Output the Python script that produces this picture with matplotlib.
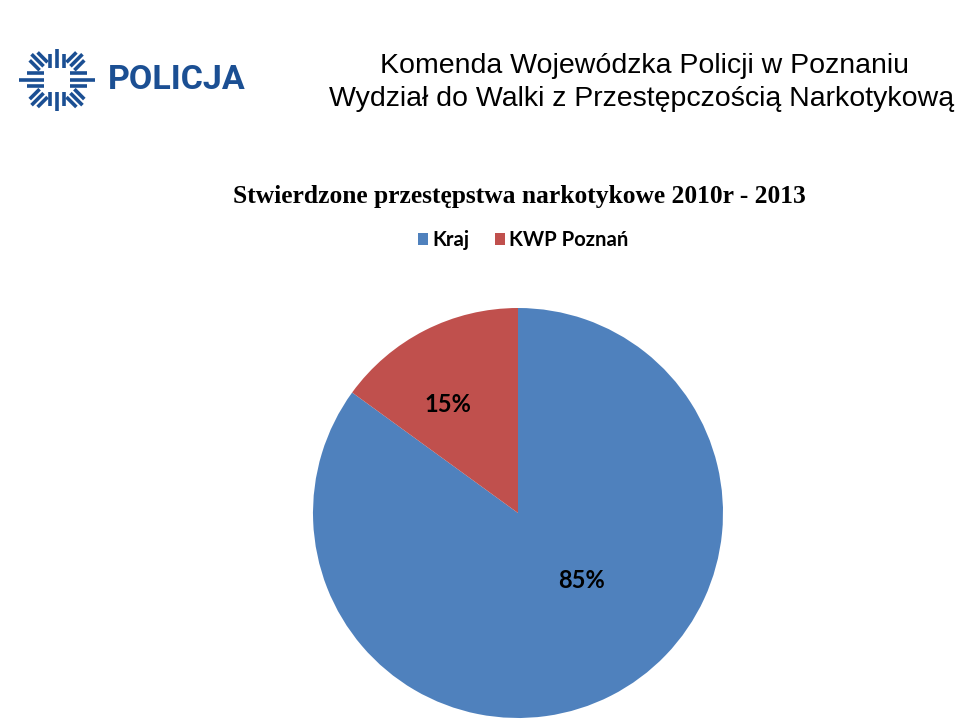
import numpy as np
import matplotlib
matplotlib.use("Agg")
import matplotlib.pyplot as plt
from matplotlib.patches import Patch

# data
categories = ["Kraj", "KWP Poznań"]
shares = [85, 15]
colors = ["#4F81BD", "#C0504D"]
# label positions inside the pie (fraction of radius, Excel-like placement)
label_xy = [(0.31, -0.33), (-0.34, 0.53)]

header_lines = ["Komenda Wojewódzka Policji w Poznaniu",
                "Wydział do Walki z Przestępczością Narkotykową"]
chart_title = "Stwierdzone przestępstwa narkotykowe 2010r - 2013"

W, H = 959, 723
fig = plt.figure(figsize=(W / 100, H / 100), dpi=100)
fig.patch.set_facecolor("white")


def px(x0, y0, w, h):
    """pixel box (top-left origin) -> figure fraction rect"""
    return [x0 / W, 1 - (y0 + h) / H, w / W, h / H]


# ---------------------------------------------------------------------------
# Police logo (star + wordmark)
# ---------------------------------------------------------------------------
C_LOGO = "#1b4f93"
ax_logo = fig.add_axes(px(0, 0, 265, 160))
ax_logo.set_xlim(0, 265)
ax_logo.set_ylim(160, 0)
ax_logo.axis("off")

cx, cy = 57, 79.7
for k in range(8):
    ang = np.deg2rad(45 * k)
    d = np.array([np.cos(ang), np.sin(ang)])
    n = np.array([-d[1], d[0]])
    if k % 2 == 1:          # diagonal arms
        r0, r_side, r_mid, sp = 19, 33, 36, 5.6
    elif k in (0, 4):       # horizontal arms
        r0, r_side, r_mid, sp = 13, 30, 38, 6.3
    else:                   # vertical arms
        r0, r_side, r_mid, sp = 12, 26, 31, 6.6
    for off in (-1, 0, 1):
        r1 = r_mid if off == 0 else r_side
        p0 = np.array([cx, cy]) + d * r0 + n * off * sp
        p1 = np.array([cx, cy]) + d * r1 + n * off * sp
        ax_logo.plot([p0[0], p1[0]], [p0[1], p1[1]], color=C_LOGO,
                     lw=2.6, solid_capstyle="butt")

ax_logo.text(108, 80, "POLICJA", fontsize=24.5, fontweight="bold",
             family="Roboto", color=C_LOGO, ha="left", va="center")

# ---------------------------------------------------------------------------
# Header text
# ---------------------------------------------------------------------------
fig.text(644 / W, 1 - 66 / H, header_lines[0], ha="center", va="center",
         fontsize=20.5, family="Liberation Sans", color="black")
fig.text(642 / W, 1 - 99 / H, header_lines[1], ha="center", va="center",
         fontsize=20.5, family="Liberation Sans", color="black")

fig.text(519 / W, 1 - 196 / H, chart_title, ha="center", va="center",
         fontsize=18.4, fontweight="bold", family="Liberation Serif")

# ---------------------------------------------------------------------------
# Pie
# ---------------------------------------------------------------------------
R = 205
ax = fig.add_axes(px(518 - R, 513 - R, 2 * R, 2 * R))
wedges, _, autotexts = ax.pie(shares, colors=colors, startangle=90,
                              counterclock=False, autopct="%d%%",
                              wedgeprops=dict(linewidth=0),
                              textprops=dict(fontsize=17, fontweight="bold",
                                             family="Lato", color="black"))
for t, (lx, ly) in zip(autotexts, label_xy):
    t.set_position((lx, ly))
ax.set_xlim(-1, 1)
ax.set_ylim(-1, 1)
ax.set_aspect("equal")

handles = [Patch(facecolor=c, edgecolor="none") for c in colors]
fig.legend(handles, categories, loc="center", bbox_to_anchor=(523 / W, 1 - 240 / H),
           ncol=2, frameon=False, handlelength=0.5, handleheight=0.5,
           handletextpad=0.2, columnspacing=1.25,
           prop=dict(family="Lato", weight="bold", size=14.6))

fig.savefig("out.png", dpi=100)
